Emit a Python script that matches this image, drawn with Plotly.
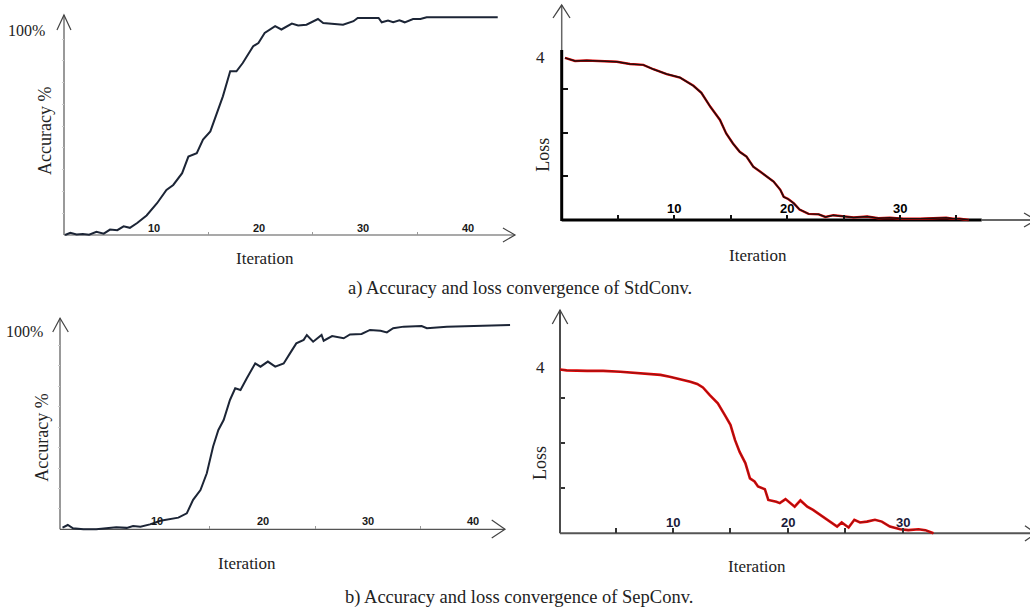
import plotly.graph_objects as go

W, H = 1030, 612

# ---------------- data ----------------
acc_std_iter = [1.3, 1.8, 2.4, 3.0, 3.6, 4.3, 5.0, 5.6, 6.3, 6.9, 7.5, 8.2, 9.1, 10.1, 11.0,
                11.65, 12.5, 13.1, 13.9, 14.5, 15.2, 15.8, 16.4, 17.1, 17.7,
                18.3, 19.3, 19.8, 20.4, 21.4, 22.0, 23.0, 23.6, 24.4, 25.5,
                26.0, 26.9, 27.9, 28.9, 29.3, 30.2, 31.3, 31.6, 32.2, 32.7,
                33.3, 33.8, 34.6, 35.3, 35.9, 42.7]
acc_std_val = [0, 1, 0.2, 0.5, 0.1, 1.5, 0.6, 2.5, 2.2, 4, 3.3, 5.5, 9, 14.6, 20.7,
               23, 28.4, 36, 37.6, 43.8, 47.6, 55.3, 63.7, 75.2, 75.2,
               79, 86.7, 88.2, 92.8, 95.9, 94.4, 97.1, 96.2, 96.6, 99.2,
               97.4, 97.1, 96.6, 98.2, 99.7, 99.7, 99.7, 97.7, 98.5, 97.7,
               98.6, 97.7, 99.2, 99.2, 100, 100]

loss_std_iter = [0.31, 1.2, 2.23, 3.71, 4.9, 6.07, 7.25, 8.14, 9.32, 10.5,
                 11.7, 12.4, 13.2, 14.05, 14.6, 15.2, 15.8, 16.4, 17.0, 17.6,
                 18.2, 18.8, 19.4, 19.7, 20.1, 20.6, 21.1, 21.9, 22.8, 23.4,
                 24.1, 25.0, 25.9, 27.1, 28.1, 29.1, 30.3, 31.8, 33.3, 34.1,
                 34.7, 35.3, 36.1]
loss_std_val = [3.71, 3.64, 3.65, 3.63, 3.62, 3.57, 3.55, 3.45, 3.34, 3.26,
                3.07, 2.91, 2.59, 2.29, 1.98, 1.75, 1.56, 1.45, 1.22, 1.11,
                0.99, 0.88, 0.69, 0.53, 0.48, 0.38, 0.24, 0.14, 0.13, 0.07,
                0.11, 0.09, 0.06, 0.08, 0.04, 0.05, 0.03, 0.03, 0.04, 0.05,
                0.03, 0.03, 0.0]

acc_sep_iter = [1.0, 1.5, 2.0, 2.98, 4.2, 5.2, 6.1, 7.1, 7.7, 8.4,
                9.3, 10.3, 11.2, 12.0, 12.8, 13.4, 14.1, 14.7, 15.3, 15.8,
                16.3, 16.9, 17.4, 17.9, 18.5, 19.3, 19.8, 20.5, 21.2, 22.0,
                22.6, 23.2, 23.9, 24.2, 24.8, 25.6, 25.8, 26.6, 27.7, 28.3,
                29.4, 30.2, 31.2, 31.8, 32.4, 33.4, 35.1, 35.6, 37.5, 39.4,
                41.3, 43.5]
acc_sep_val = [0.8, 2.1, 0.5, 0, 0, 0.5, 1.0, 0.7, 1.6, 1.3,
               2.4, 4.2, 5.1, 5.7, 7.8, 14.4, 19.2, 27.4, 40.5, 48.6,
               53.5, 63.3, 69.0, 68.2, 73.9, 81.2, 79.6, 82.1, 79.6, 81.2,
               86.1, 91.0, 92.7, 95.1, 91.8, 95.1, 92.3, 94.6, 93.5, 95.4,
               95.6, 97.6, 97.2, 96.4, 98.4, 99.2, 99.5, 98.4, 99.2, 99.5,
               99.7, 100]

loss_sep_iter = [0.14, 0.72, 2.5, 3.9, 5.4, 6.5, 7.7, 8.9, 9.7, 10.6,
                 11.5, 12.1, 12.6, 13.2, 13.9, 14.5, 15.0, 15.4, 15.8, 16.3,
                 16.7, 17.1, 17.4, 18.0, 18.3, 19.0, 19.3, 19.8, 20.2, 20.6,
                 21.1, 21.7, 22.2, 22.8, 23.4, 24.0, 24.3, 24.7, 25.3, 25.8,
                 26.3, 26.9, 27.6, 28.2, 28.9, 29.8, 30.5, 31.4, 32.0, 32.7]
loss_sep_val = [3.64, 3.62, 3.61, 3.61, 3.59, 3.57, 3.54, 3.52, 3.48, 3.43,
                3.37, 3.32, 3.24, 3.07, 2.89, 2.63, 2.41, 2.07, 1.81, 1.56,
                1.22, 1.15, 1.04, 0.98, 0.74, 0.70, 0.67, 0.76, 0.68, 0.59,
                0.73, 0.59, 0.52, 0.41, 0.30, 0.21, 0.15, 0.24, 0.13, 0.30,
                0.24, 0.26, 0.30, 0.26, 0.15, 0.09, 0.07, 0.09, 0.07, 0.0]

acc_xtick_labels = [10, 20, 30, 40]
loss_xtick_labels = [10, 20, 30]
acc_yticks = [10, 20, 30, 40, 50, 60, 70, 80, 90]
loss_yticks = [1, 2, 3]
loss_top_label = 4
caption_a = "a) Accuracy and loss convergence of StdConv."
caption_b = "b) Accuracy and loss convergence of SepConv."

# ---------------- layout helpers ----------------
def px(x):
    return x / W

def py(y):
    return 1 - y / H

SERIF = "Liberation Serif, Times New Roman, serif"
SANS = "Liberation Sans, Arial, sans-serif"

# panel geometry: origin/scale in pixels, plotting box
panels = [
    dict(ox=51.5, sx=10.45, oy=235.0, sy=2.177, box=(62, 15, 515, 241)),
    dict(ox=561.5, sx=11.28, oy=220.0, sy=43.7, box=(559, 5, 1030, 226)),
    dict(ox=52.0, sx=10.53, oy=529.3, sy=2.043, box=(58, 318, 512, 535)),
    dict(ox=558.4, sx=11.47, oy=533.3, sy=45.0, box=(557, 310, 1030, 539)),
]

fig = go.Figure()

series = [
    (acc_std_iter, acc_std_val),
    (loss_std_iter, loss_std_val),
    (acc_sep_iter, acc_sep_val),
    (loss_sep_iter, loss_sep_val),
]

layout_axes = {}
for i, p in enumerate(panels):
    n = "" if i == 0 else str(i + 1)
    l, t, r, b = p["box"]
    xr = [(l - p["ox"]) / p["sx"], (r - p["ox"]) / p["sx"]]
    yr = [(p["oy"] - b) / p["sy"], (p["oy"] - t) / p["sy"]]
    is_loss = i in (1, 3)
    if is_loss:
        xt = dict(tickvals=[5, 10, 15, 20, 25, 30, 35] if i == 1 else [5, 10, 15, 20, 25, 30],
                  ticks="inside", ticklen=5, tickwidth=2,
                  tickcolor="#111" if i == 1 else "#333")
        yt = dict(tickvals=loss_yticks, ticks="inside", ticklen=5 if i == 1 else 4,
                  tickwidth=2 if i == 1 else 1.5, tickcolor="#111" if i == 1 else "#333")
        yaxis_px = 561.7 if i == 1 else 560.0
    else:
        xt = dict(tickvals=[15, 25, 35], ticks="inside", ticklen=3, tickwidth=1,
                  tickcolor="#999")
        yt = dict(tickvals=acc_yticks, ticks="outside", ticklen=2, tickwidth=1,
                  tickcolor="#ccc")
        yaxis_px = 64.0 if i == 0 else 60.0
    layout_axes["xaxis" + n] = dict(domain=[px(l), px(r)], range=xr, anchor="free",
                                    position=py(p["oy"]), showgrid=False, zeroline=False,
                                    showline=False, showticklabels=False, fixedrange=True, **xt)
    layout_axes["yaxis" + n] = dict(domain=[py(b), py(t)], range=yr, anchor="free",
                                    position=px(yaxis_px), showgrid=False, zeroline=False,
                                    showline=False, showticklabels=False, fixedrange=True, **yt)
    xs, ys = series[i]
    if is_loss:
        fig.add_trace(go.Scatter(x=xs, y=ys, mode="lines", xaxis="x" + n, yaxis="y" + n,
                                 line=dict(color="#e80000", width=2.4 if i == 1 else 2.6),
                                 hoverinfo="skip"))
        fig.add_trace(go.Scatter(x=xs, y=ys, mode="lines", xaxis="x" + n, yaxis="y" + n,
                                 line=dict(color="#111111" if i == 1 else "#333333",
                                           width=1.5 if i == 1 else 0.9),
                                 opacity=0.95 if i == 1 else 0.6, hoverinfo="skip"))
    else:
        fig.add_trace(go.Scatter(x=xs, y=ys, mode="lines", xaxis="x" + n, yaxis="y" + n,
                                 line=dict(color="#1c2536", width=2), hoverinfo="skip"))

shapes = []

def seg(x0, y0, x1, y1, color, width):
    shapes.append(dict(type="line", xref="paper", yref="paper",
                       x0=px(x0), y0=py(y0), x1=px(x1), y1=py(y1),
                       line=dict(color=color, width=width), layer="below"))

def vee(pts, color, width):
    d = "M%.4f,%.4f L%.4f,%.4f L%.4f,%.4f" % (px(pts[0][0]), py(pts[0][1]),
                                              px(pts[1][0]), py(pts[1][1]),
                                              px(pts[2][0]), py(pts[2][1]))
    shapes.append(dict(type="path", xref="paper", yref="paper", path=d,
                       line=dict(color=color, width=width), layer="below"))

# panel 1 axes
seg(64, 235, 64, 15, "#555", 1.2)
seg(64, 235, 515, 235, "#555", 1.2)
vee([(57, 30), (64, 15), (71, 30)], "#444", 1.2)
vee([(503, 228), (515, 235), (503, 242)], "#444", 1.2)
# panel 2 axes
seg(561.7, 50, 561.7, 5, "#666", 1.5)
seg(561.7, 221, 561.7, 50, "#000", 3)
seg(561.7, 220, 981.7, 220, "#000", 3)
seg(981.7, 220, 1030, 220, "#666", 2)
vee([(553, 18), (561.7, 5), (570, 18)], "#444", 1.3)
vee([(1024, 213), (1036, 220), (1024, 227)], "#444", 1.3)
# panel 3 axes
seg(60, 529.3, 60, 318.3, "#555", 1.2)
seg(60, 529.3, 505, 529.3, "#555", 1.2)
vee([(52.7, 332), (60, 318.3), (68.3, 332)], "#444", 1.2)
vee([(491.7, 520), (505, 529.3), (491.7, 538)], "#444", 1.2)
# panel 4 axes
seg(560, 533.3, 560, 310, "#111", 1.5)
seg(560, 533.3, 1030, 533.3, "#555", 2)
vee([(552.3, 324), (560, 310), (567.7, 324)], "#444", 1.3)
vee([(1025, 525.7), (1036, 533.3), (1025, 541)], "#444", 1.3)

ann = []

def text(x, y, s, size, font=SERIF, angle=0, color="#222"):
    ann.append(dict(x=px(x), y=py(y), xref="paper", yref="paper", text=s,
                    showarrow=False, textangle=angle, xanchor="center", yanchor="middle",
                    font=dict(family=font, size=size, color=color)))

# x tick labels drawn above the baselines
for i, labels, yshift, size, color, xshift in [
        (0, acc_xtick_labels, 7, 11, "#1a1a1a", -2),
        (1, loss_xtick_labels, 11, 13, "#000", 0),
        (2, acc_xtick_labels, 8, 11, "#1a1a1a", 0),
        (3, loss_xtick_labels, 11, 13, "#1a1a3a", 0)]:
    n = "" if i == 0 else str(i + 1)
    for v in labels:
        ann.append(dict(x=v, y=0, xref="x" + n, yref="y" + n, text="<b>%d</b>" % v,
                        showarrow=False, xanchor="center", yanchor="middle",
                        xshift=xshift, yshift=yshift,
                        font=dict(family=SANS, size=size, color=color)))

# "4" labels on the loss axes
for n, ysh in [("2", -12.8), ("4", -14.4)]:
    ann.append(dict(x=px(540.7), y=loss_top_label, xref="paper", yref="y" + n,
                    text=str(loss_top_label), showarrow=False, xanchor="center",
                    yanchor="middle", yshift=ysh,
                    font=dict(family=SERIF, size=17, color="#222")))

text(26, 30, "100%", 16)
text(45, 131, "Accuracy %", 18, angle=-90)
text(265, 258, "Iteration", 17)
text(542.7, 155, "Loss", 18, angle=-90)
text(758, 255, "Iteration", 17)
text(520, 288, caption_a, 18.5)

text(24, 331, "100%", 16)
text(41.7, 438, "Accuracy %", 18, angle=-90)
text(246.7, 563, "Iteration", 17)
text(540.7, 463.3, "Loss", 18, angle=-90)
text(757.3, 566.7, "Iteration", 17)
text(518.5, 597, caption_b, 18.5)

fig.update_layout(width=W, height=H, margin=dict(l=0, r=0, t=0, b=0),
                  paper_bgcolor="white", plot_bgcolor="rgba(0,0,0,0)",
                  showlegend=False, shapes=shapes, annotations=ann, **layout_axes)

fig.write_html("out.html", config={"displayModeBar": False},
               post_script="document.body.style.margin='0px';document.body.style.overflow='hidden';")
